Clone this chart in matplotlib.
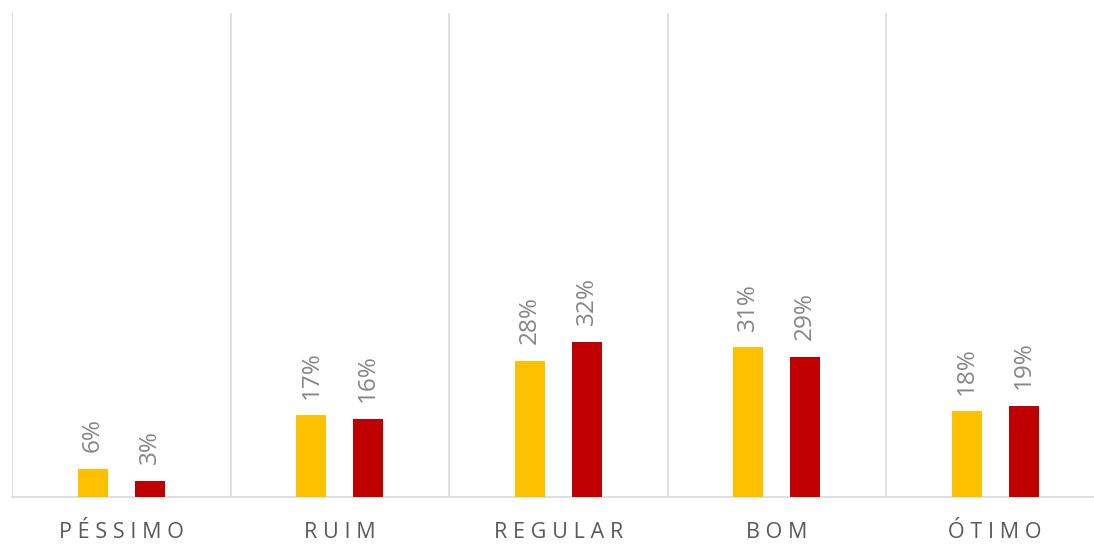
import matplotlib
matplotlib.use("Agg")
import matplotlib.pyplot as plt
import numpy as np

categories = ["PÉSSIMO", "RUIM", "REGULAR", "BOM", "ÓTIMO"]
serie_a = [0.058, 0.169, 0.282, 0.309, 0.177]
serie_b = [0.034, 0.162, 0.321, 0.290, 0.189]
color_a = "#FFC000"
color_b = "#C00000"

plt.rcParams['font.family'] = ['Open Sans', 'DejaVu Sans']

fig = plt.figure(figsize=(10.94, 5.45), dpi=100)
ax = fig.add_axes([12/1094, 1-497/545, 1092.5/1094, 484/545])

x = np.arange(len(categories))
w = 0.137
off = 0.130
ba = ax.bar(x - off, serie_a, w, color=color_a, zorder=3)
bb = ax.bar(x + off, serie_b, w, color=color_b, zorder=3)

for bars, vals in ((ba, serie_a), (bb, serie_b)):
    for r, v in zip(bars, vals):
        ax.annotate(f"{v:.0%}", (r.get_x() + r.get_width()/2, v),
                    xytext=(0, 12), textcoords="offset points",
                    rotation=90, ha="center", va="bottom",
                    fontsize=17.5, color="#858585")

ax.set_xlim(-0.5, len(categories) - 0.5)
ax.set_ylim(0, 1.0)
ax.set_yticks([])
ax.set_xticks(x)
spaced = ["\u2009\u200a".join(list(c)) for c in categories]
ax.set_xticklabels(spaced, fontsize=15.5, color="#595959")
ax.tick_params(axis="x", length=0, pad=18)

for b in np.arange(len(categories)) - 0.5:
    ax.axvline(b, color="#d9d9d9", lw=1.2, zorder=1)

for s in ["top", "right", "left"]:
    ax.spines[s].set_visible(False)
ax.spines["bottom"].set_color("#d9d9d9")
ax.spines["bottom"].set_linewidth(1.2)

fig.savefig("out.png", dpi=100)
